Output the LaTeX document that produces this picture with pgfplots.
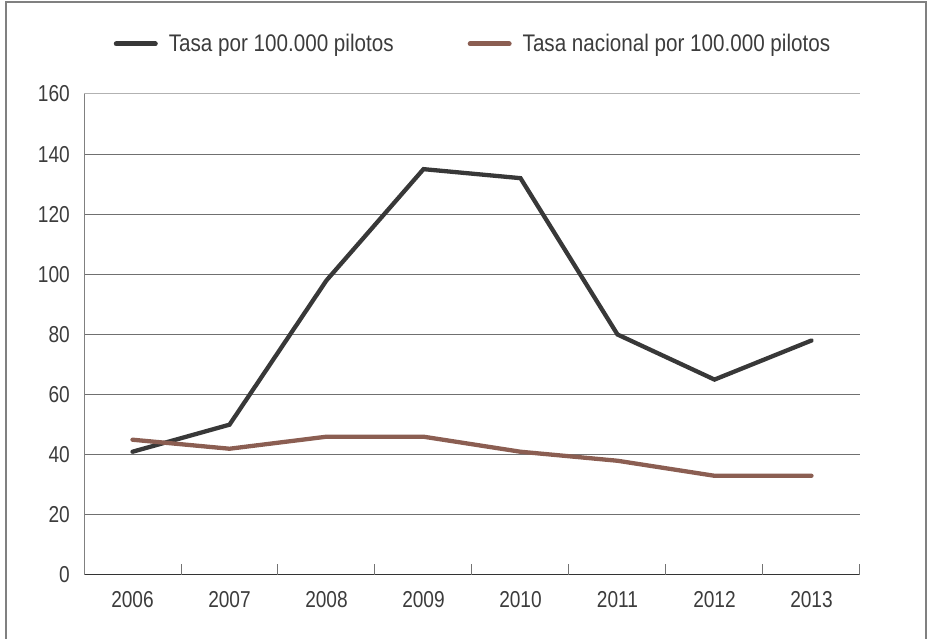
\documentclass[border=0pt]{standalone}
\usepackage{pgfplots}
\pgfplotsset{compat=1.18}
\usepackage{fontspec}
\setmainfont{Liberation Sans}
\newfontfamily\legfont{Liberation Sans}[FakeStretch=0.86]
\newfontfamily\tickfont{Liberation Sans}[FakeStretch=0.83]
\definecolor{serA}{HTML}{383838}
\definecolor{serB}{HTML}{8B5E52}
\definecolor{gridc}{HTML}{707070}
\definecolor{txt}{HTML}{3C3C3C}
\begin{document}
\begin{tikzpicture}[x=1pt,y=1pt]
\useasboundingbox (0,0) rectangle (927,639);
\draw[color=gray, line width=1.2pt] (6,-5) -- (6,637) -- (926,637) -- (926,-5);
\begin{axis}[
  at={(84pt,64pt)}, anchor=south west,
  scale only axis, width=776pt, height=481pt,
  xmin=0.5, xmax=8.5, ymin=0, ymax=160,
  clip=false,
  axis x line=bottom, axis y line=left,
  x axis line style={-, draw=black!80, line width=1pt},
  y axis line style={-, draw=gray, line width=1pt},
  xtick={1,...,8},
  xticklabels={2006,2007,2008,2009,2010,2011,2012,2013},
  major tick length=0pt,
  extra x ticks={1.5,2.5,3.5,4.5,5.5,6.5,7.5,8.5},
  extra x tick labels={},
  extra x tick style={major tick length=11pt, tick align=inside, tick style={draw=gray!90!black, line width=1pt}},
  ytick={0,20,40,60,80,100,120,140},
  extra y ticks={160},
  extra y tick style={grid style={gray!60, line width=1pt}},
  ymajorgrids,
  grid style={gridc, line width=1pt},
  /pgf/number format/assume math mode=true,
  tick label style={font=\tickfont\fontsize{23}{27}\selectfont, text=txt},
  xticklabel style={anchor=north, yshift=-16pt, inner sep=0pt},
  yticklabel style={anchor=east, xshift=-14pt, inner sep=0pt},
  legend columns=2,
  legend cell align=left,
  legend style={at={(0.5,1.104)}, anchor=center, draw=none, fill=none,
    font=\legfont\fontsize{24}{28}\selectfont, text=txt,
    nodes={inner sep=0pt},
    /tikz/every even column/.append style={column sep=74pt},
    /tikz/every odd column/.append style={column sep=11pt}},
  legend image code/.code={\draw[#1, line width=5pt, line cap=round] (2.5pt,0pt) -- (41.5pt,0pt);},
]
\addplot[serA, line width=4.3pt, line cap=round] coordinates {(1,41)(2,50)(3,98)(4,135)(5,132)(6,80)(7,65)(8,78)};
\addlegendentry{Tasa por 100.000 pilotos}
\addplot[serB, line width=4.3pt, line cap=round] coordinates {(1,45)(2,42)(3,46)(4,46)(5,41)(6,38)(7,33)(8,33)};
\addlegendentry{Tasa nacional por 100.000 pilotos}
\end{axis}
\end{tikzpicture}
\end{document}
